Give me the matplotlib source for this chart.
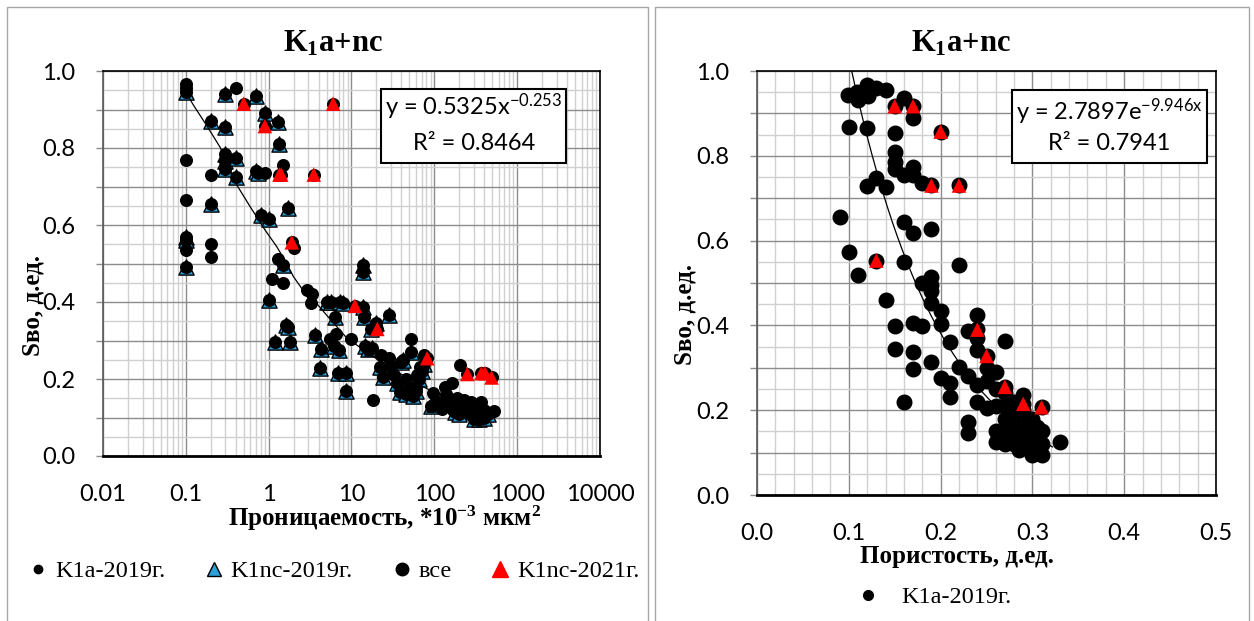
import numpy as np
import matplotlib
matplotlib.use("Agg")
import matplotlib.pyplot as plt
from matplotlib.patches import Rectangle
from matplotlib.lines import Line2D
from matplotlib.ticker import FixedLocator, MultipleLocator, FuncFormatter, NullFormatter

plt.rcParams["mathtext.default"] = "regular"

# ---- permeability chart (left) ----
k1a_x = [0.1, 0.1, 0.1, 0.1, 0.1, 0.2, 0.2, 0.2, 0.4, 0.9, 1.5, 2.05, 1.3, 1.1, 1.5,
         2.9, 3.3, 3.2, 6.5, 5.5, 9.8, 18, 22.5, 28.5, 52, 74, 96, 124, 135, 165, 205,
         520, 370, 320, 230, 280, 150, 190, 210, 260, 33, 45, 60, 62, 68, 140, 170,
         300, 400, 110, 240]
k1a_y = [0.965, 0.955, 0.77, 0.665, 0.535, 0.73, 0.55, 0.518, 0.957, 0.735, 0.757, 0.54,
         0.512, 0.46, 0.45, 0.432, 0.42, 0.398, 0.318, 0.303, 0.305, 0.145, 0.262, 0.255,
         0.303, 0.263, 0.163, 0.123, 0.18, 0.19, 0.236, 0.118, 0.14, 0.13, 0.145, 0.14,
         0.14, 0.15, 0.13, 0.11, 0.21, 0.2, 0.18, 0.21, 0.23, 0.16, 0.12, 0.12, 0.12,
         0.14, 0.125]

k1nc19_x = [0.1, 0.1, 0.1, 0.1, 0.2, 0.2, 0.3, 0.3, 0.3, 0.3, 0.3, 0.4, 0.4, 0.7, 0.7,
            0.75, 0.9, 1.3, 1.35, 1.7, 0.8, 1.0, 1.5, 1.0, 1.2, 1.8, 1.6, 1.7, 3.6, 4.3,
            4.2, 5.1, 5.6, 7.2, 8.0, 6.3, 6.2, 7.0, 6.8, 8.5, 8.5, 13.6, 13.6, 13.6, 14,
            14.5, 16, 17.8, 19.5, 17, 28.5, 22, 24, 30, 40, 35, 38, 52, 45, 55, 60, 65,
            70, 75, 90, 100, 180, 200, 300, 350, 400, 450, 250, 42, 50]
k1nc19_y = [0.945, 0.57, 0.56, 0.49, 0.87, 0.655, 0.94, 0.855, 0.785, 0.765, 0.745,
            0.775, 0.725, 0.935, 0.74, 0.735, 0.89, 0.867, 0.81, 0.645, 0.625, 0.615,
            0.495, 0.405, 0.295, 0.295, 0.34, 0.335, 0.315, 0.277, 0.228, 0.399, 0.40,
            0.40, 0.398, 0.36, 0.285, 0.275, 0.215, 0.215, 0.17, 0.495, 0.478, 0.386,
            0.36, 0.285, 0.277, 0.28, 0.345, 0.33, 0.365, 0.23, 0.205, 0.23, 0.245, 0.19,
            0.165, 0.27, 0.16, 0.155, 0.17, 0.2, 0.22, 0.24, 0.13, 0.135, 0.115, 0.11,
            0.095, 0.095, 0.1, 0.11, 0.12, 0.25, 0.18]

k1nc21_x = [0.5, 0.9, 1.35, 1.42, 3.5, 6.0, 1.9, 11, 20.5, 82, 250, 370, 410, 490]
k1nc21_y = [0.915, 0.857, 0.731, 0.731, 0.731, 0.915, 0.555, 0.39, 0.33, 0.254,
            0.213, 0.215, 0.215, 0.204]

# trend line as drawn on the chart
perm_trend_x = [0.1, 0.123, 0.179, 0.259, 0.327, 0.412, 0.596, 0.904, 1.25, 1.65, 1.99,
                2.51, 3.5, 5.0, 8.8, 18.4, 35, 73, 155, 330, 470]
perm_trend_y = [0.945, 0.912, 0.858, 0.802, 0.753, 0.704, 0.648, 0.587, 0.544, 0.50,
                0.466, 0.435, 0.405, 0.366, 0.306, 0.258, 0.219, 0.18, 0.145, 0.111, 0.102]

perm_ticks = [0.01, 0.1, 1, 10, 100, 1000, 10000]

# ---- porosity chart (right) ----
por_x = [0.099, 0.109, 0.11, 0.12, 0.121, 0.13, 0.14, 0.16, 0.15, 0.17, 0.17, 0.2, 0.1,
         0.12, 0.15, 0.15, 0.15, 0.15, 0.16, 0.17, 0.17, 0.18, 0.19, 0.22, 0.12, 0.13,
         0.14, 0.09, 0.16, 0.17, 0.19, 0.1, 0.13, 0.16, 0.22, 0.11, 0.19, 0.18, 0.19,
         0.19, 0.14, 0.19, 0.2, 0.2, 0.15, 0.17, 0.18, 0.21, 0.15, 0.17, 0.17, 0.19, 0.2,
         0.21, 0.21, 0.16, 0.22, 0.23, 0.24, 0.23, 0.24, 0.24, 0.24, 0.25, 0.27, 0.26,
         0.24, 0.24, 0.25, 0.27, 0.29, 0.31, 0.23, 0.23, 0.33, 0.25, 0.25, 0.26, 0.27,
         0.26, 0.27, 0.28, 0.29, 0.26, 0.26, 0.27, 0.27, 0.27, 0.27, 0.28, 0.28, 0.28,
         0.28, 0.29, 0.29, 0.29, 0.29, 0.30, 0.30, 0.30, 0.30, 0.30, 0.31, 0.31, 0.31,
         0.285, 0.305, 0.295]
por_y = [0.943, 0.951, 0.932, 0.967, 0.94, 0.959, 0.955, 0.936, 0.917, 0.917, 0.888,
         0.857, 0.869, 0.865, 0.853, 0.81, 0.786, 0.77, 0.755, 0.774, 0.755, 0.735, 0.73,
         0.73, 0.729, 0.747, 0.727, 0.656, 0.645, 0.617, 0.627, 0.572, 0.553, 0.55, 0.542,
         0.519, 0.515, 0.499, 0.495, 0.48, 0.461, 0.452, 0.434, 0.403, 0.399, 0.406, 0.399,
         0.362, 0.344, 0.338, 0.296, 0.314, 0.275, 0.263, 0.232, 0.219, 0.303, 0.28,
         0.425, 0.387, 0.391, 0.37, 0.342, 0.328, 0.364, 0.291, 0.26, 0.22, 0.205, 0.255,
         0.215, 0.207, 0.173, 0.147, 0.126, 0.30, 0.27, 0.25, 0.24, 0.21, 0.21, 0.22,
         0.235, 0.15, 0.125, 0.18, 0.15, 0.13, 0.12, 0.19, 0.17, 0.14, 0.12, 0.2, 0.16,
         0.14, 0.12, 0.18, 0.15, 0.13, 0.11, 0.095, 0.15, 0.12, 0.095, 0.105, 0.16, 0.175]

por21_x = [0.15, 0.17, 0.2, 0.19, 0.22, 0.13, 0.24, 0.25, 0.27, 0.29, 0.31]
por21_y = [0.917, 0.917, 0.857, 0.73, 0.73, 0.553, 0.39, 0.328, 0.255, 0.215, 0.207]

# exponential trend from the equation on the chart
exp_a, exp_b = 2.7897, -9.946
exp_x_range = (0.103, 0.322)

SERIF = "Liberation Serif"
SANS = "Lato"

fig = plt.figure(figsize=(12.54, 6.21), dpi=100)

# panel frames
for x0, x1 in [(7, 648), (655, 1249)]:
    fig.patches.append(Rectangle((x0 / 1254, -0.01), (x1 - x0) / 1254, 1 - 7 / 621 + 0.01,
                                 transform=fig.transFigure, fill=False,
                                 edgecolor="#a6a6a6", lw=1.0))


def style_axes(ax):
    ax.set_ylim(0, 1.0)
    ax.yaxis.set_major_locator(FixedLocator(np.round(np.arange(0, 1.01, 0.1), 2)))
    ax.yaxis.set_minor_locator(FixedLocator(np.round(np.arange(0.05, 1.0, 0.1), 2)))
    ax.yaxis.set_major_formatter(FuncFormatter(
        lambda v, p: f"{v:.1f}" if round(v * 10) % 2 == 0 else ""))
    ax.grid(True, which="major", color="#8c8c8c", lw=1.0)
    ax.grid(True, which="minor", color="#d0d0d0", lw=1.0)
    ax.set_axisbelow(True)
    ax.tick_params(axis="y", which="major", length=5, width=1, color="#8c8c8c",
                   pad=15, labelsize=17)
    ax.tick_params(axis="y", which="minor", length=0)
    ax.tick_params(axis="x", which="both", length=0, pad=20, labelsize=17)
    for lab in ax.get_xticklabels() + ax.get_yticklabels():
        lab.set_fontfamily(SANS)
    for s in ["top", "right"]:
        ax.spines[s].set_color("black")
        ax.spines[s].set_linewidth(1.2)
    ax.spines["bottom"].set_color("black")
    ax.spines["bottom"].set_linewidth(2.0)
    ax.spines["left"].set_color("#595959")
    ax.spines["left"].set_linewidth(1.2)


# ---------- left ----------
ax1 = fig.add_axes([103 / 1254, 1 - 456 / 621, 497 / 1254, 385 / 621])
ax1.set_xscale("log")
ax1.set_xlim(0.01, 10000)
minor_ticks = [m * d for d in perm_ticks[:-1] for m in range(2, 10)]
ax1.xaxis.set_major_locator(FixedLocator(perm_ticks))
ax1.xaxis.set_minor_locator(FixedLocator(minor_ticks))
ax1.xaxis.set_major_formatter(FuncFormatter(lambda v, p: f"{v:g}"))
ax1.xaxis.set_minor_formatter(NullFormatter())

all_x = k1a_x + k1nc19_x + k1nc21_x
all_y = k1a_y + k1nc19_y + k1nc21_y
ax1.scatter(k1a_x, k1a_y, s=30, color="black", zorder=3)
ax1.scatter(k1nc19_x, k1nc19_y, s=120, marker="^", color="#2a9fd8",
            edgecolors="black", linewidths=1.0, zorder=4)
ax1.scatter(all_x, all_y, s=70, color="black", zorder=5)
ax1.scatter(k1nc21_x, k1nc21_y, s=110, marker="^", color="#ff0000", edgecolors="none",
            zorder=6)
ax1.plot(perm_trend_x, perm_trend_y, color="black", lw=0.9, zorder=7)
style_axes(ax1)

ax1.set_xlabel("Проницаемость, *10$^{-3}$ мкм$^2$", fontfamily=SERIF,
               fontweight="bold", fontsize=18)
ax1.xaxis.set_label_coords(0.567, -0.163)
ax1.xaxis.label.set_va("center")
ax1.set_ylabel("Sво, д.ед.", fontfamily=SERIF, fontweight="bold", fontsize=18)
ax1.yaxis.set_label_coords(-0.141, 0.39)
ax1.yaxis.label.set_va("center")

ax1.add_patch(Rectangle((0.559, 0.761), 0.373, 0.192, transform=ax1.transAxes,
                        facecolor="white", edgecolor="black", lw=1.5, zorder=8))
ax1.text(0.746, 0.906, "y = 0.5325x$^{-0.253}$", transform=ax1.transAxes, ha="center",
         va="center", fontsize=17, fontfamily=SANS, zorder=9)
ax1.text(0.746, 0.811, "R² = 0.8464", transform=ax1.transAxes, ha="center",
         va="center", fontsize=17, fontfamily=SANS, zorder=9)

fig.text(333 / 1254, 1 - 44 / 621, "K$_1$a+nc", ha="center", va="center",
         fontfamily=SERIF, fontweight="bold", fontsize=22)

handles = [
    Line2D([], [], ls="none", marker="o", ms=6, color="black"),
    Line2D([], [], ls="none", marker="^", ms=10, mfc="#2a9fd8", mec="black"),
    Line2D([], [], ls="none", marker="o", ms=9, color="black"),
    Line2D([], [], ls="none", marker="^", ms=11, color="#ff0000"),
]
labels = ["K1a-2019г.", "K1nc-2019г.", "все", "K1nc-2021г."]
fig.legend(handles, labels, loc="center", bbox_to_anchor=(334 / 1254, 1 - 571 / 621),
           ncol=4, frameon=False, handlelength=0.8, handletextpad=0.3,
           columnspacing=1.6, prop={"family": SERIF, "size": 17.5})

# ---------- right ----------
ax2 = fig.add_axes([757 / 1254, 1 - 495 / 621, 459 / 1254, 424 / 621])
ax2.set_xlim(0, 0.5)
ax2.xaxis.set_major_locator(MultipleLocator(0.1))
ax2.xaxis.set_minor_locator(MultipleLocator(0.02))
ax2.xaxis.set_major_formatter(FuncFormatter(lambda v, p: f"{v:.1f}"))

ax2.scatter(por_x, por_y, s=110, color="black", zorder=5)
ax2.scatter(por21_x, por21_y, s=110, marker="^", color="#ff0000", edgecolors="none",
            zorder=6)
tx = np.linspace(exp_x_range[0], exp_x_range[1], 200)
ax2.plot(tx, exp_a * np.exp(exp_b * tx), color="black", lw=0.9, zorder=7)
style_axes(ax2)

ax2.set_xlabel("Пористость, д.ед.", fontfamily=SERIF, fontweight="bold", fontsize=18)
ax2.xaxis.set_label_coords(0.436, -0.146)
ax2.xaxis.label.set_va("center")
ax2.set_ylabel("Sво, д.ед.", fontfamily=SERIF, fontweight="bold", fontsize=18)
ax2.yaxis.set_label_coords(-0.157, 0.426)
ax2.yaxis.label.set_va("center")

ax2.add_patch(Rectangle((0.556, 0.783), 0.424, 0.172, transform=ax2.transAxes,
                        facecolor="white", edgecolor="black", lw=1.5, zorder=8))
ax2.text(0.768, 0.903, "y = 2.7897e$^{-9.946x}$", transform=ax2.transAxes, ha="center",
         va="center", fontsize=17, fontfamily=SANS, zorder=9)
ax2.text(0.768, 0.829, "R² = 0.7941", transform=ax2.transAxes, ha="center",
         va="center", fontsize=17, fontfamily=SANS, zorder=9)

fig.text(961 / 1254, 1 - 44 / 621, "K$_1$a+nc", ha="center", va="center",
         fontfamily=SERIF, fontweight="bold", fontsize=22)

fig.legend([Line2D([], [], ls="none", marker="o", ms=7, color="black")], ["K1a-2019г."],
           loc="center", bbox_to_anchor=(935 / 1254, 1 - 597 / 621), frameon=False,
           handlelength=0.8, handletextpad=1.0, prop={"family": SERIF, "size": 17.5})

fig.savefig("out.png", dpi=100)
